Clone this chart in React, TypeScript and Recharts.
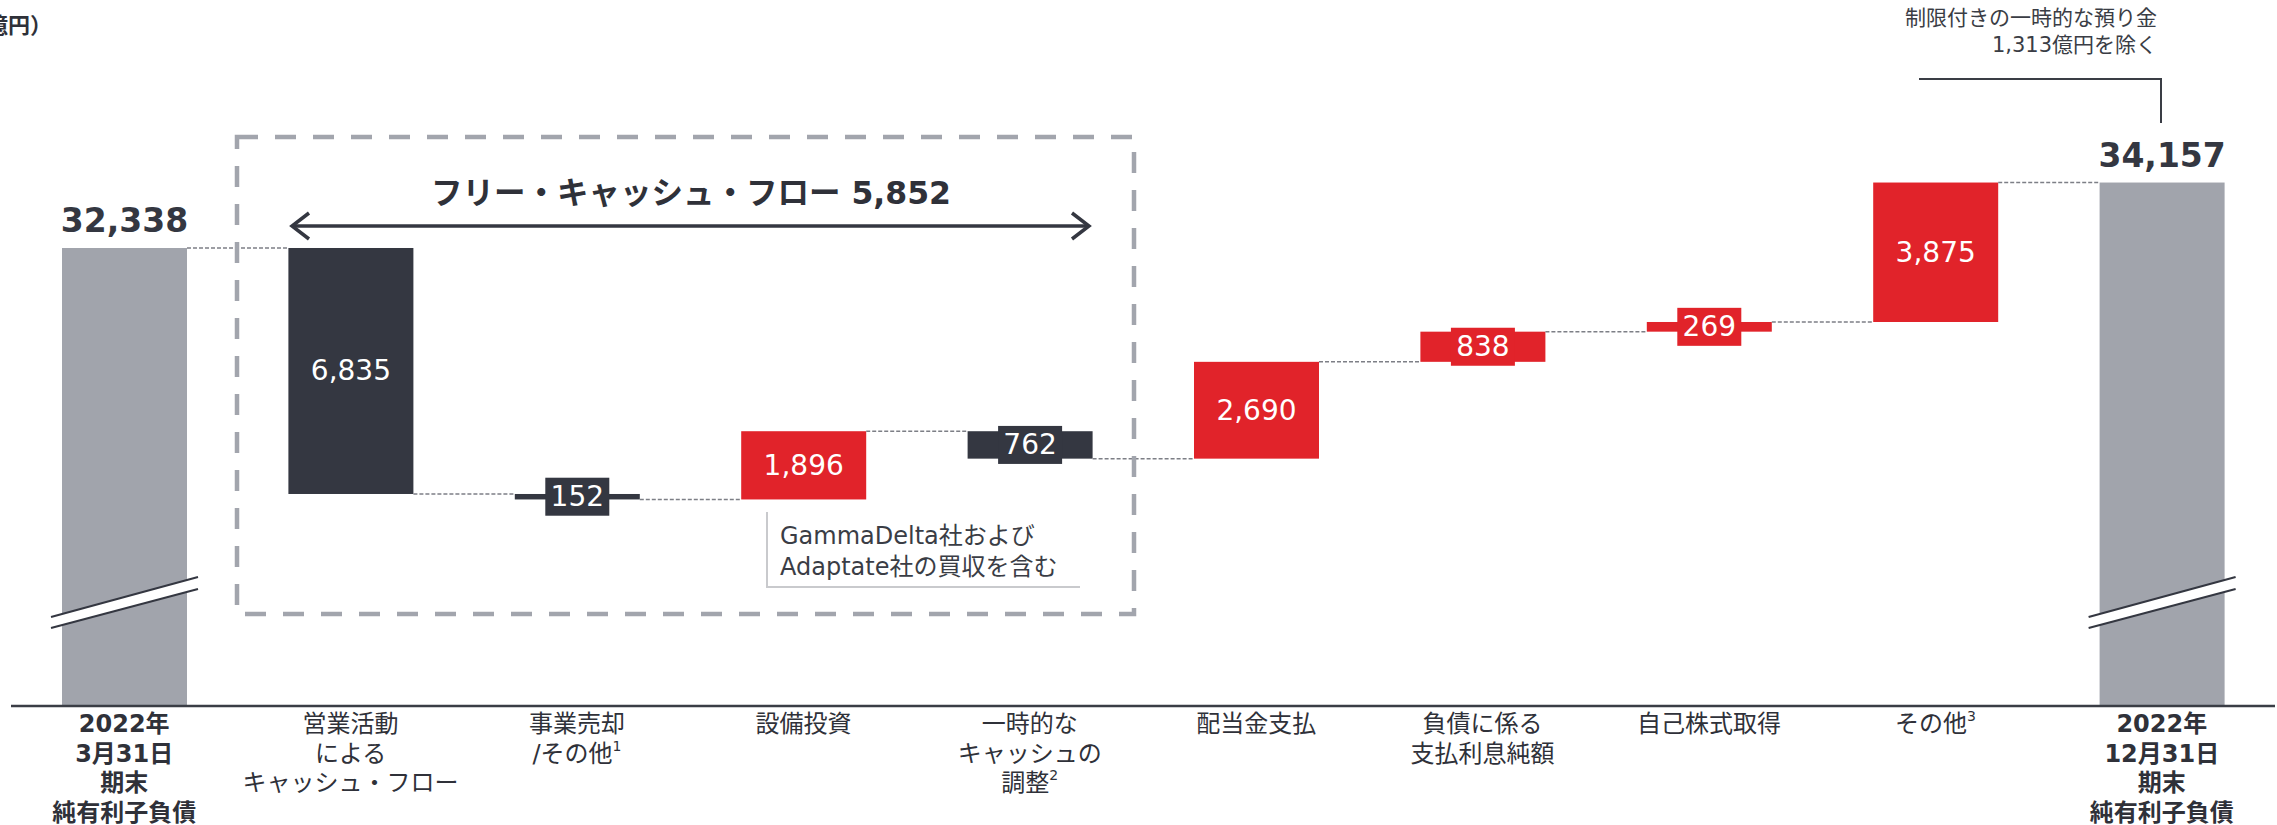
import React from 'react';
import { BarChart, Bar, XAxis, YAxis } from 'recharts';

// ---- data ----
const categories = ['start', 'opcf', 'divest', 'capex', 'adjust', 'dividend', 'interest', 'buyback', 'other', 'end'];
const kinds = ['total', 'decrease', 'decrease', 'increase', 'decrease', 'increase', 'increase', 'increase', 'increase', 'total'];
const values = [32338, 6835, 152, 1896, 762, 2690, 838, 269, 3875, 34157];
const tickLines = [
  ['2022年', '3月31日', '期末', '純有利子負債'],
  ['営業活動', 'による', 'キャッシュ・フロー'],
  ['事業売却', '/その他'],
  ['設備投資'],
  ['一時的な', 'キャッシュの', '調整'],
  ['配当金支払'],
  ['負債に係る', '支払利息純額'],
  ['自己株式取得'],
  ['その他'],
  ['2022年', '12月31日', '期末', '純有利子負債'],
];
const footnotes = ['', '', '1', '', '2', '', '', '', '3', ''];
const unitLabel = '（億円）';
const fcfLabel = 'フリー・キャッシュ・フロー 5,852';
const acqNote = ['GammaDelta社および', 'Adaptate社の買収を含む'];
const depositNote = ['制限付きの一時的な預り金', '1,313億円を除く'];

// ---- layout / style ----
const W = 2277;
const H = 825;
const Y_DOMAIN: [number, number] = [19612, 38673];
const GRAY = '#a1a4ac';
const DARK = '#343741';
const RED = '#e1232a';
const TEXT = '#2f3139';
const FONT = '"DejaVu Sans", "Noto Sans CJK JP", sans-serif';

const fmt = (v: number) => v.toLocaleString('en-US');

let level = 0;
const data = categories.map((name, i) => {
  const v = values[i];
  const kind = kinds[i];
  let range: [number, number];
  if (kind === 'total') {
    range = [Y_DOMAIN[0], v];
    level = v;
  } else if (kind === 'decrease') {
    range = [level - v, level];
    level -= v;
  } else {
    range = [level, level + v];
    level += v;
  }
  return { name, kind, value: v, range };
});

const colorOf = (kind: string) => (kind === 'total' ? GRAY : kind === 'decrease' ? DARK : RED);

const rights: number[] = [];

function WaterfallShape(props: any) {
  const { x, y, width, height, index, payload } = props;
  const kind = payload.kind;
  const color = colorOf(kind);
  rights[index] = x + width;
  const startY = kind === 'increase' ? y + height : y;
  const prevRight = index > 0 ? rights[index - 1] : undefined;
  const cx = x + width / 2;
  const cy = y + height / 2;
  const label = fmt(payload.value);
  const els: any[] = [];
  if (prevRight !== undefined) {
    els.push(
      <line key="c" x1={prevRight} x2={x} y1={startY} y2={startY} stroke="#7d7f86" strokeWidth={1.5} strokeDasharray="4 2" />
    );
  }
  els.push(<rect key="r" x={x} y={y} width={width} height={height} fill={color} />);
  if (kind === 'total') {
    const yb = y + height;
    const xl = x - 11;
    const xr = x + width + 11;
    els.push(
      <g key="brk">
        <polygon points={`${xl},${yb - 89} ${xr},${yb - 129} ${xr},${yb - 117} ${xl},${yb - 78}`} fill="#ffffff" />
        <line x1={xl} y1={yb - 89} x2={xr} y2={yb - 129} stroke={DARK} strokeWidth={2} />
        <line x1={xl} y1={yb - 78} x2={xr} y2={yb - 117} stroke={DARK} strokeWidth={2} />
      </g>
    );
    els.push(
      <text key="t" x={cx} y={y - 27} textAnchor="middle" dominantBaseline="central" fontFamily={FONT} fontWeight="bold" fontSize={33} fill={DARK}>
        {label}
      </text>
    );
  } else {
    if (height < 40) {
      els.push(<rect key="b" x={cx - 32} y={cy - 19} width={64} height={38} fill={color} />);
    }
    els.push(
      <text key="t" x={cx} y={cy} textAnchor="middle" dominantBaseline="central" fontFamily={FONT} fontSize={28} fill="#ffffff">
        {label}
      </text>
    );
  }
  return <g>{els}</g>;
}

function CategoryTick(props: any) {
  const { x, y, payload } = props;
  const i = categories.indexOf(payload.value);
  const lines = tickLines[i] || [];
  const bold = kinds[i] === 'total';
  return (
    <g>
      {lines.map((ln, j) => (
        <text
          key={j}
          x={x}
          y={y + 18 + j * 29.5}
          textAnchor="middle"
          dominantBaseline="central"
          fontFamily={FONT}
          fontWeight={bold ? 'bold' : 'normal'}
          fontSize={24}
          fill={TEXT}
        >
          {ln}
          {j === lines.length - 1 && footnotes[i] ? (
            <tspan fontSize={14} dy={-8}>{footnotes[i]}</tspan>
          ) : null}
        </text>
      ))}
    </g>
  );
}

export default function App() {
  return (
    <div style={{ position: 'absolute', left: 0, top: 0, width: W, height: H, background: '#fff' }}>
      <BarChart width={W} height={H} data={data} margin={{ top: 20, right: 2, bottom: 0, left: 11 }}>
        <XAxis
          dataKey="name"
          interval={0}
          tickLine={false}
          tickSize={0}
          tickMargin={0}
          height={119}
          axisLine={{ stroke: '#3a3d45', strokeWidth: 2.5 }}
          tick={<CategoryTick />}
        />
        <YAxis hide type="number" domain={Y_DOMAIN} allowDataOverflow />
        <Bar dataKey="range" barSize={125} isAnimationActive={false} shape={(p: any) => <WaterfallShape {...p} />} />
      </BarChart>
      <svg width={W} height={H} style={{ position: 'absolute', left: 0, top: 0, pointerEvents: 'none' }}>
        <text x={-36} y={25} dominantBaseline="central" fontFamily={FONT} fontWeight="bold" fontSize={22} fill={TEXT}>
          {unitLabel}
        </text>
        <rect x={237} y={137} width={897} height={477} fill="none" stroke="#a2a5ad" strokeWidth={4.5} strokeDasharray="21 17" />
        <text x={691} y={193} textAnchor="middle" dominantBaseline="central" fontFamily={FONT} fontWeight="bold" fontSize={31.5} fill={TEXT}>
          {fcfLabel}
        </text>
        <line x1={292} y1={226} x2={1089} y2={226} stroke={DARK} strokeWidth={3.5} />
        <polyline points="309,213 292,226 309,239" fill="none" stroke={DARK} strokeWidth={3.5} />
        <polyline points="1072,213 1089,226 1072,239" fill="none" stroke={DARK} strokeWidth={3.5} />
        <polyline points="767,512 767,587 1080,587" fill="none" stroke="#c9cacd" strokeWidth={2} />
        {acqNote.map((t, i) => (
          <text key={i} x={780} y={536 + i * 31} dominantBaseline="central" fontFamily={FONT} fontSize={24} fill="#3a3d45">
            {t}
          </text>
        ))}
        {depositNote.map((t, i) => (
          <text key={i} x={2157} y={18 + i * 27} textAnchor="end" dominantBaseline="central" fontFamily={FONT} fontSize={21} fill="#3a3d45">
            {t}
          </text>
        ))}
        <polyline points="1919,79 2161,79 2161,123" fill="none" stroke="#3a3d45" strokeWidth={2} />
      </svg>
    </div>
  );
}
